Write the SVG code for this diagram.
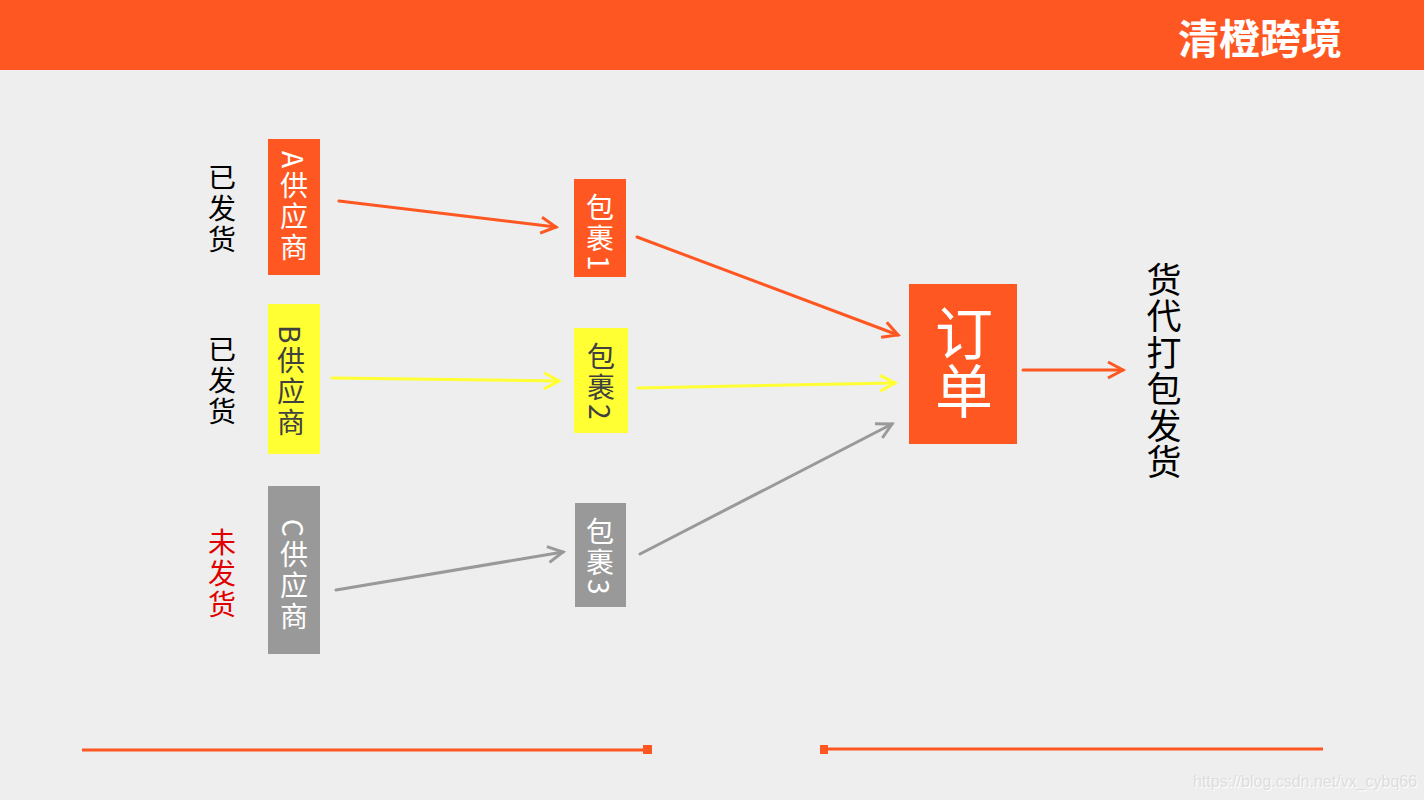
<svg xmlns="http://www.w3.org/2000/svg" width="1424" height="800" viewBox="0 0 1424 800">
<style>
.cjk{font-family:"Noto Sans CJK SC","Noto Sans",sans-serif}
.v{writing-mode:vertical-rl;font-family:"Noto Sans CJK SC","Noto Sans",sans-serif;text-anchor:start;letter-spacing:3px;font-weight:normal}
.ln{stroke-width:3;fill:none;stroke-linecap:round}
</style>
<defs>
<marker id="ao" markerUnits="userSpaceOnUse" markerWidth="26" markerHeight="26" refX="18" refY="10" orient="auto"><path d="M3,2 L18,10 L3,18" fill="none" stroke="#FF5722" stroke-width="3"/></marker>
<marker id="ay" markerUnits="userSpaceOnUse" markerWidth="26" markerHeight="26" refX="18" refY="10" orient="auto"><path d="M3,2 L18,10 L3,18" fill="none" stroke="#FFFF33" stroke-width="3"/></marker>
<marker id="ag" markerUnits="userSpaceOnUse" markerWidth="26" markerHeight="26" refX="18" refY="10" orient="auto"><path d="M3,2 L18,10 L3,18" fill="none" stroke="#999999" stroke-width="3"/></marker>
</defs>
<rect width="1424" height="800" fill="#EEEEEE"/>
<g id="header">
<rect x="0" y="0" width="1424" height="70" fill="#FF5722"/>
<text x="1178" y="54" class="cjk" font-size="41" font-weight="bold" fill="#FFFFFF">清橙跨境</text>
</g>
<g id="status-a"><text x="222" y="163" class="v" font-size="28" fill="#000">已发货</text></g>
<g id="status-b"><text x="222" y="335" class="v" font-size="28" fill="#000">已发货</text></g>
<g id="status-c"><text x="222" y="528" class="v" font-size="28" fill="#E00000">未发货</text></g>
<g id="supplier-a">
<rect x="268" y="139" width="52" height="136" fill="#FF5722"/>
<text x="294" y="151" class="v" font-size="28" fill="#FFFFFF">A供应商</text>
</g>
<g id="supplier-b">
<rect x="268" y="304" width="52" height="150" fill="#FFFF33"/>
<text x="291" y="325" class="v" font-size="28" fill="#404040">B供应商</text>
</g>
<g id="supplier-c">
<rect x="268" y="486" width="52" height="168" fill="#999999"/>
<text x="294" y="519" class="v" font-size="28" fill="#FFFFFF">C供应商</text>
</g>
<g id="package-1">
<rect x="574" y="179" width="52" height="98" fill="#FF5722"/>
<text x="600" y="193" class="v" font-size="28" fill="#FFFFFF">包裹1</text>
</g>
<g id="package-2">
<rect x="574" y="328" width="54" height="105" fill="#FFFF33"/>
<text x="601" y="342" class="v" font-size="28" fill="#404040">包裹2</text>
</g>
<g id="package-3">
<rect x="575" y="503" width="51" height="104" fill="#999999"/>
<text x="600" y="517" class="v" font-size="28" fill="#FFFFFF">包裹3</text>
</g>
<g id="order">
<rect x="909" y="284" width="108" height="160" fill="#FF5722"/>
<text x="964" y="304" class="v" font-size="58" fill="#FFFFFF" style="letter-spacing:0">订单</text>
</g>
<g id="forwarder"><text x="1164" y="262" class="v" font-size="35" fill="#000" style="letter-spacing:1.5px">货代打包发货</text></g>
<g id="connectors">
<line class="ln" x1="339" y1="201" x2="556" y2="227" stroke="#FF5722" marker-end="url(#ao)"/>
<line class="ln" x1="332" y1="378" x2="559" y2="381" stroke="#FFFF33" marker-end="url(#ay)"/>
<line class="ln" x1="336" y1="590" x2="563" y2="552" stroke="#999999" marker-end="url(#ag)"/>
<line class="ln" x1="637" y1="237" x2="898" y2="335" stroke="#FF5722" marker-end="url(#ao)"/>
<line class="ln" x1="638" y1="388" x2="895" y2="383" stroke="#FFFF33" marker-end="url(#ay)"/>
<line class="ln" x1="640" y1="554" x2="892" y2="424" stroke="#999999" marker-end="url(#ag)"/>
<line class="ln" x1="1023" y1="370" x2="1123" y2="370" stroke="#FF5722" marker-end="url(#ao)"/>
</g>
<g id="footer">
<line x1="82" y1="750" x2="648" y2="750" stroke="#FF5722" stroke-width="3"/>
<rect x="643" y="745" width="9" height="9" fill="#FF5722"/>
<line x1="826" y1="749" x2="1323" y2="749" stroke="#FF5722" stroke-width="3"/>
<rect x="820" y="745" width="8" height="9" fill="#FF5722"/>
<text x="1194" y="788" font-family="Liberation Sans, Arial, sans-serif" font-size="16" fill="#FFFFFF">https://blog.csdn.net/vx_cybq66</text>
<text x="1193" y="787" font-family="Liberation Sans, Arial, sans-serif" font-size="16" fill="#DDDDDD">https://blog.csdn.net/vx_cybq66</text>
</g>
</svg>
